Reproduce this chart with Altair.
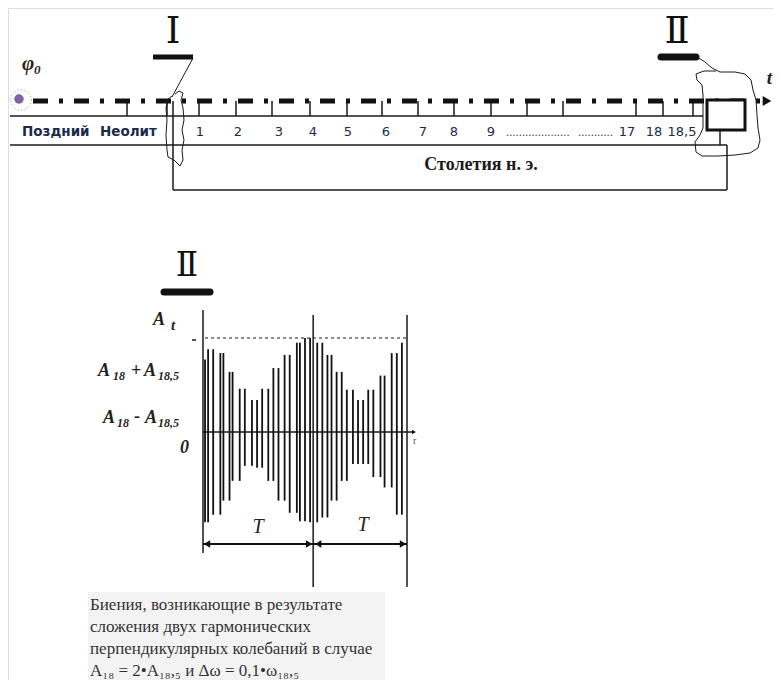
import altair as alt
import pandas as pd

# ---------------- values ----------------
era_labels = ["Поздний", "Неолит"]
century_labels = ["1", "2", "3", "4", "5", "6", "7", "8", "9", "17", "18", "18,5"]
gap_dots = ["....................", "..........."]
timeline_title = "Столетия н. э."
axis_name = "t"
phase_name = ["φ", "0"]
stage_labels = ["Ⅰ", "Ⅱ"]
# beat signal: successive extremes; time in units of the fast oscillation (one beat period T = 10 units),
# amplitude relative to A18 + A18,5
wave_t = [0.2, 0.5, 1.0, 1.7, 2.0, 2.6, 2.9, 3.6, 4.1, 4.8, 5.3, 5.8, 6.4, 6.9, 7.4, 8.0, 8.5, 9.2, 9.5, 10.0, 10.5,
          11.2, 11.7, 12.2, 12.6, 13.1, 13.6, 14.1, 14.7, 15.2, 15.7, 16.2, 16.7, 17.4, 17.8, 18.5, 19.0, 19.5, 19.9]
wave_a = [0.77, -0.96, 0.88, -0.88, 0.84, -0.73, 0.64, -0.52, 0.46, -0.36, 0.34, -0.38, 0.46, -0.52, 0.68, -0.73,
          0.82, -0.86, 0.95, -0.95, 1.0,
          -0.96, 0.95, -0.91, 0.82, -0.73, 0.64, -0.52, 0.45, -0.34, 0.34, -0.34, 0.45, -0.48, 0.60, -0.59,
          0.84, -0.88, 0.95]
beat_marks_t = [0.0, 10.8, 20.0]
period_label = "T"
caption_lines = [
    "Биения, возникающие в результате",
    "сложения двух гармонических",
    "перпендикулярных колебаний в случае",
    "A₁₈ = 2•A₁₈,₅ и Δω = 0,1•ω₁₈,₅",
]

# ---------------- layout (screen pixels of the page) ----------------
W, H = 765, 672
XS = alt.Scale(domain=[8, 8 + W], nice=False, zero=False)
YS = alt.Scale(domain=[8, 8 + H], nice=False, zero=False, reverse=True)

DASH_Y, LINE1_Y, LINE2_Y, BRACKET_Y = 101, 116, 145, 190
tick_x = [127, 167, 199, 236, 272, 310, 347, 382, 418, 454, 491, 527, 563, 636, 663, 693]
century_x = [200, 238, 279, 313, 348, 386, 423, 454, 491, 627, 654, 682]
LABEL_Y = 136

# beat plot frame
PX0, PXU = 203, 10.2      # x of t=0, pixels per time unit
PY0, PYU = 432, 94        # y of amplitude 0, pixels per amplitude unit


def X(f="x"):
    return alt.X(f"{f}:Q", scale=XS, axis=None)


def Y(f="y"):
    return alt.Y(f"{f}:Q", scale=YS, axis=None)


def segs(rows, width=1.5, color="#1a1a1a", **kw):
    df = pd.DataFrame(rows, columns=["x", "y", "x2", "y2"])
    return alt.Chart(df).mark_rule(strokeWidth=width, color=color, **kw).encode(
        x=X(), y=Y(), x2="x2:Q", y2="y2:Q")


def texts(rows, size, font="Liberation Serif", weight="normal", style="normal",
          align="left", color="#222222"):
    df = pd.DataFrame(rows, columns=["x", "y", "text"])
    return alt.Chart(df).mark_text(fontSize=size, font=font, fontWeight=weight, fontStyle=style,
                                   align=align, baseline="alphabetic", color=color).encode(
        x=X(), y=Y(), text="text:N")


def polyline(pts, width=1.0, color="#1a1a1a"):
    df = pd.DataFrame([{"x": p[0], "y": p[1], "i": k} for k, p in enumerate(pts)])
    return alt.Chart(df).mark_line(strokeWidth=width, color=color).encode(
        x=X(), y=Y(), order="i:Q")


def points(rows, shape, size, color="#111111", filled=True, **kw):
    df = pd.DataFrame(rows, columns=["x", "y"])
    return alt.Chart(df).mark_point(shape=shape, size=size, color=color, filled=filled,
                                    opacity=1, **kw).encode(x=X(), y=Y())


layers = []

# caption background
layers.append(alt.Chart(pd.DataFrame([{"x": 88, "y": 592, "x2": 385, "y2": 680}])).mark_rect(
    color="#f3f3f3").encode(x=X(), y=Y(), x2="x2:Q", y2="y2:Q"))

# timeline frame lines
frame = [
    (10, LINE1_Y, 703, LINE1_Y),
    (10, LINE2_Y, 727, LINE2_Y),
    (173, DASH_Y, 173, BRACKET_Y),
    (173, BRACKET_Y, 727, BRACKET_Y),
    (727, LINE2_Y, 727, BRACKET_Y),
    (720, 130, 720, LINE2_Y),
] + [(x, DASH_Y, x, LINE1_Y) for x in tick_x]
layers.append(segs(frame, width=1.5))

# dash-dot time axis with arrow
layers.append(segs([(33, DASH_Y, 762, DASH_Y)], width=5, color="#111111", strokeDash=[15, 11, 4, 11]))
layers.append(points([(767, DASH_Y)], "triangle-right", 100))

# hand-drawn marks
layers.append(segs([(193, 58, 172, 97)], width=1.0))
layers.append(polyline([(172, 96), (168, 99), (166, 108), (167, 120), (166, 135), (167, 150), (168, 157),
                        (174, 160), (180, 166), (183, 160), (182, 150), (184, 140), (182, 130), (184, 120),
                        (183, 108), (181, 100), (183, 93), (179, 91), (175, 94)]))
layers.append(polyline([(697, 57), (705, 62), (712, 68), (720, 72), (735, 72), (745, 74), (751, 80),
                        (753, 90), (756, 100), (757, 115), (758, 128), (760, 140), (758, 148), (750, 153),
                        (735, 155), (718, 156), (702, 156), (696, 152), (695, 142), (700, 135), (703, 128),
                        (703, 110), (703, 95), (702, 85), (697, 80), (696, 74), (704, 71), (716, 71)]))

# box at 18,5
layers.append(alt.Chart(pd.DataFrame([{"x": 707, "y": 100, "x2": 745, "y2": 130}])).mark_rect(
    fill="white", stroke="#111111", strokeWidth=3).encode(x=X(), y=Y(), x2="x2:Q", y2="y2:Q"))

# stage bars
layers.append(segs([(153, 57, 193, 57)], width=5, color="#111111"))
layers.append(segs([(661, 57, 696, 57), (164, 292, 210, 292)], width=7, color="#111111", strokeCap="round"))

# origin blob
layers.append(points([(21, 100)], "circle", 420, color="#9a9a9a", filled=False, strokeDash=[1, 2], strokeWidth=1))
layers.append(points([(19, 99)], "circle", 90, color="#7e61a7"))

# ---------------- beat plot ----------------
mark_x = [PX0 + t * PXU for t in beat_marks_t]
layers.append(segs([(mark_x[0], 310, mark_x[0], 553),
                    (mark_x[1], 315, mark_x[1], 587),
                    (mark_x[2], 315, mark_x[2], 587),
                    (PX0, PY0, 412, PY0),
                    (192, 340, 196, 340)], width=1.5))
layers.append(segs([(PX0 + 2, PY0 - PYU, mark_x[2], PY0 - PYU)], width=1.2, strokeDash=[3, 3]))
layers.append(points([(414, PY0)], "triangle-right", 22))

# each stroke of the signal runs vertically from one extreme to the next
wave_df = pd.DataFrame({"t": wave_t, "a": wave_a, "a_next": wave_a[1:] + [None]}).dropna()
layers.append(alt.Chart(wave_df).mark_rule(strokeWidth=1.8, color="#111111").transform_calculate(
    px=f"{PX0} + datum.t * {PXU}", py=f"{PY0} - datum.a * {PYU}", py2=f"{PY0} - datum.a_next * {PYU}").encode(
    x=X("px"), y=Y("py"), y2="py2:Q"))

# period arrows
ARR_Y = 544
layers.append(segs([(mark_x[0], ARR_Y, mark_x[2], ARR_Y)], width=2.2, color="#111111"))
layers.append(points([(mark_x[0] + 4, ARR_Y), (mark_x[1] + 5, ARR_Y)], "triangle-left", 55))
layers.append(points([(mark_x[1] - 4, ARR_Y), (mark_x[2] - 4, ARR_Y)], "triangle-right", 55))

# ---------------- texts ----------------
layers.append(texts([(173, 43, stage_labels[0]), (677, 43, stage_labels[1])], 37,
                    font="DejaVu Serif", align="center", color="#111111"))
layers.append(texts([(187, 276, stage_labels[1])], 33, font="DejaVu Serif", align="center", color="#111111"))

layers.append(texts([(22, 70, phase_name[0])], 21, weight="bold", style="italic", color="#2a2418"))
layers.append(texts([(34, 74, phase_name[1])], 13, weight="bold", style="italic", color="#2a2418"))
layers.append(texts([(772, 84, axis_name)], 19, weight="bold", style="italic", align="right", color="#2a2418"))

layers.append(texts([(22, LABEL_Y, era_labels[0]), (100, LABEL_Y, era_labels[1])], 13.5,
                    font="DejaVu Sans", weight="bold", color="#1c2a4a"))
layers.append(texts([(x, LABEL_Y, s) for x, s in zip(century_x, century_labels)], 13,
                    font="DejaVu Sans", align="center", color="#1c2a4a"))
layers.append(texts([(506, LABEL_Y, gap_dots[0]), (578, LABEL_Y, gap_dots[1])], 10,
                    font="DejaVu Sans", color="#1c2a4a"))
layers.append(texts([(481, 170, timeline_title)], 18, weight="bold", align="center", color="#1a1a1a"))

# amplitude labels
main_lab = [(153, 325, "A"), (98, 376, "A"), (144, 376, "A"), (103, 423, "A"), (145, 423, "A"), (180, 453, "0")]
sub_lab = [(113, 380, "18"), (158, 380, "18,5"), (117, 427, "18"), (158, 427, "18,5")]
layers.append(texts(main_lab, 18, weight="bold", style="italic", color="#241f1a"))
layers.append(texts(sub_lab, 12, weight="bold", style="italic", color="#241f1a"))
layers.append(texts([(171, 330, "t")], 15, weight="bold", style="italic", color="#241f1a"))
layers.append(texts([(131, 376, "+"), (134, 422, "-")], 18, weight="bold", color="#241f1a"))
layers.append(texts([(413, 444, "r")], 10, color="#555555"))
layers.append(texts([((mark_x[0] + mark_x[1]) / 2, 533, period_label),
                     ((mark_x[1] + mark_x[2]) / 2 + 3, 531, period_label)], 20,
                    style="italic", align="center", color="#2b2418"))

# caption
layers.append(texts([(90, 610 + 22 * k, s) for k, s in enumerate(caption_lines)], 17, color="#333333"))

chart = alt.layer(*layers).properties(
    width=W, height=H, padding=0, autosize="none"
).configure_view(stroke=None).configure(background="white")

chart.save("out.html", embed_options={"renderer": "svg", "actions": False})
